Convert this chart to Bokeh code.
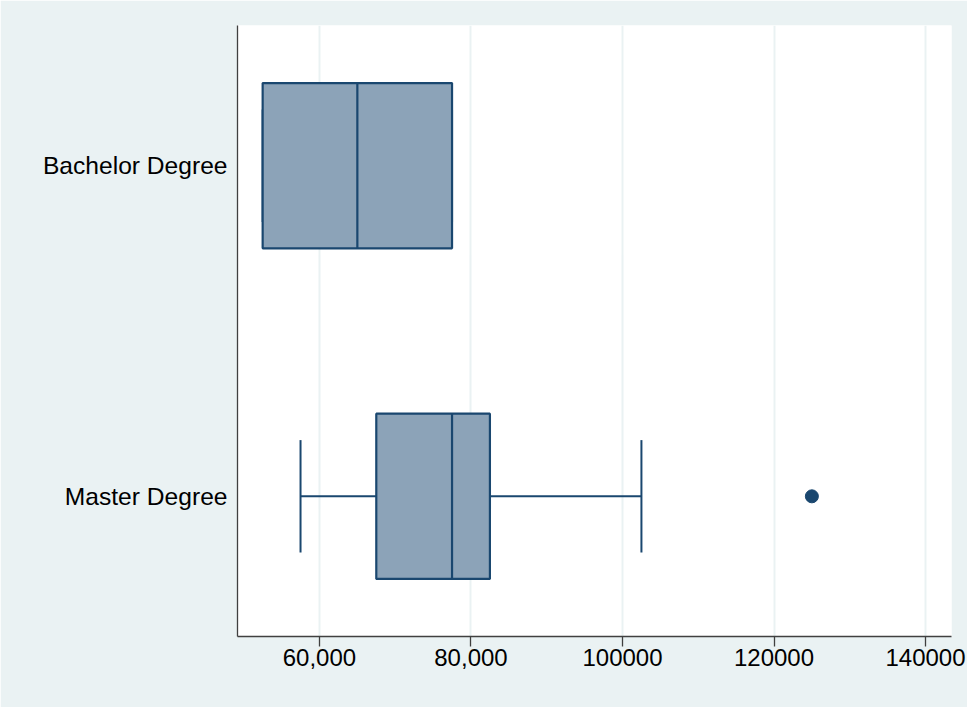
from bokeh.plotting import figure
from bokeh.models import FactorRange, Range1d, FixedTicker, ColumnDataSource
from bokeh.embed import file_html
from bokeh.resources import INLINE

# ---- data ----
categories = ["Bachelor Degree", "Master Degree"]
q1 = [52500, 67500]
median = [65000, 77500]
q3 = [77500, 82500]
lower_whisker = [52500, 57500]
upper_whisker = [77500, 102500]
outlier_cat = ["Master Degree"]
outlier_val = [125000]

x_tick_values = [60000, 80000, 100000, 120000, 140000]
x_tick_labels = ["60,000", "80,000", "100000", "120000", "140000"]

# ---- styling ----
BG = "#EAF2F3"
NAVY = "#1A476F"
FILL = "#8CA3B8"
FONT = "Liberation Sans"
BOX_H = 0.5
CAP_H = 0.17

p = figure(
    width=967, height=707,
    y_range=FactorRange(factors=list(reversed(categories)),
                        range_padding=-0.076, range_padding_units="absolute"),
    x_range=Range1d(49180, 143430),
    output_backend="svg", toolbar_location=None,
    min_border_left=237, min_border_top=25, min_border_right=16, min_border_bottom=71,
)
p.border_fill_color = BG
p.background_fill_color = "white"
p.outline_line_color = None

half = BOX_H / 2
src = ColumnDataSource(dict(
    cat=categories, q1=q1, med=median, q3=q3, lo=lower_whisker, hi=upper_whisker,
    ybot=[(c, -half) for c in categories], ytop=[(c, half) for c in categories],
    cbot=[(c, -CAP_H) for c in categories], ctop=[(c, CAP_H) for c in categories],
))

# whiskers
p.segment(x0="lo", x1="q1", y0="cat", y1="cat", source=src, line_color=NAVY, line_width=2)
p.segment(x0="q3", x1="hi", y0="cat", y1="cat", source=src, line_color=NAVY, line_width=2)
p.segment(x0="lo", x1="lo", y0="cbot", y1="ctop", source=src, line_color=NAVY, line_width=2)
p.segment(x0="hi", x1="hi", y0="cbot", y1="ctop", source=src, line_color=NAVY, line_width=2)
# boxes
p.hbar(y="cat", left="q1", right="q3", height=BOX_H, source=src,
       fill_color=FILL, line_color=NAVY, line_width=2.2)
# medians
p.segment(x0="med", x1="med", y0="ybot", y1="ytop", source=src, line_color=NAVY, line_width=2.2)
# outliers
p.scatter(x=outlier_val, y=outlier_cat, size=13, fill_color=NAVY, line_color=NAVY)

# axes
p.xaxis.ticker = FixedTicker(ticks=x_tick_values)
p.xaxis.major_label_overrides = {v: l for v, l in zip(x_tick_values, x_tick_labels)}
p.xaxis.minor_tick_line_color = None
p.xaxis.major_tick_out = 10
p.xaxis.major_tick_in = 0
p.xaxis.major_label_standoff = 2
for ax in (p.xaxis[0], p.yaxis[0]):
    ax.axis_line_color = "#404040"
    ax.axis_line_width = 1.3
    ax.major_tick_line_color = "#404040"
    ax.major_tick_line_width = 1.3
    ax.major_label_text_font = FONT
    ax.major_label_text_font_size = "24px"
    ax.major_label_text_color = "black"

p.yaxis.major_label_text_font_size = "24.6px"
p.yaxis.major_tick_out = 0
p.yaxis.major_tick_in = 0
p.yaxis.major_label_standoff = 10
p.yaxis.minor_tick_line_color = None

p.xgrid.grid_line_color = BG
p.xgrid.grid_line_width = 2
p.ygrid.grid_line_color = None

open("out.html", "w").write(file_html(p, INLINE))
